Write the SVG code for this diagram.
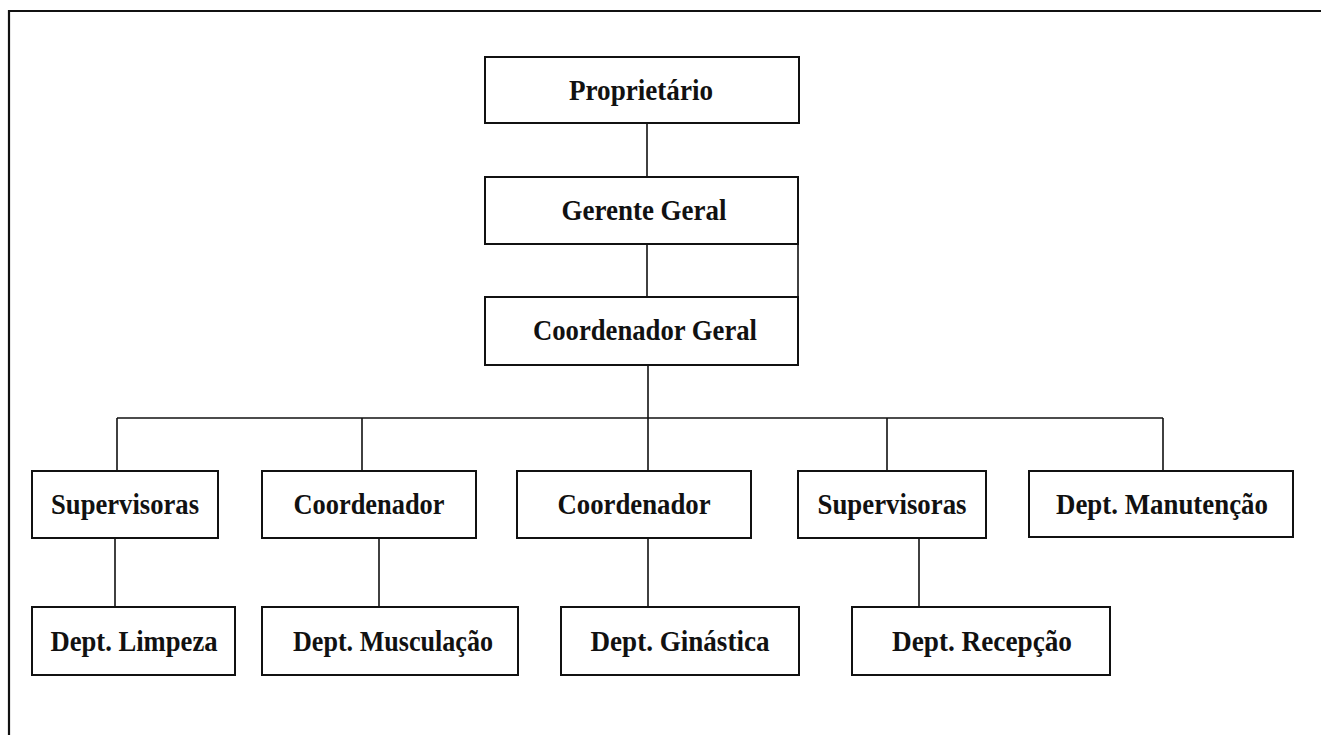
<svg xmlns="http://www.w3.org/2000/svg" width="1321" height="735" viewBox="0 0 1321 735">
<style>
.box{fill:#fff;stroke:#111;stroke-width:2}
.lbl{font-family:"Liberation Serif","Times New Roman",serif;font-weight:bold;font-size:30px;fill:#111;text-anchor:middle}
.ln{stroke:#111;stroke-width:1.6;fill:none}
.frame{stroke:#111;stroke-width:2.2;fill:none}
</style>
<rect width="1321" height="735" fill="#fff"/>
<path class="frame" d="M9,735 V11 H1321"/>
<g id="connectors">
<path class="ln" d="M647,123 V177"/>
<path class="ln" d="M647,244 V297"/>
<path class="ln" d="M798,244 V297"/>
<path class="ln" d="M648,365 V471"/>
<path class="ln" d="M117,418 H1163"/>
<path class="ln" d="M117,418 V471"/>
<path class="ln" d="M362,418 V471"/>
<path class="ln" d="M887,418 V471"/>
<path class="ln" d="M1163,418 V471"/>
<path class="ln" d="M115,538 V607"/>
<path class="ln" d="M379,538 V607"/>
<path class="ln" d="M648,538 V607"/>
<path class="ln" d="M919,538 V607"/>
</g>
<g id="proprietario"><rect class="box" x="485" y="57" width="314" height="66"/><text class="lbl" x="641" y="100" textLength="144" lengthAdjust="spacingAndGlyphs">Proprietário</text></g>
<g id="gerente-geral"><rect class="box" x="485" y="177" width="313" height="67"/><text class="lbl" x="644" y="220" textLength="165" lengthAdjust="spacingAndGlyphs">Gerente Geral</text></g>
<g id="coordenador-geral"><rect class="box" x="485" y="297" width="313" height="68"/><text class="lbl" x="645" y="340" textLength="224" lengthAdjust="spacingAndGlyphs">Coordenador Geral</text></g>
<g id="supervisoras-1"><rect class="box" x="32" y="471" width="186" height="67"/><text class="lbl" x="125" y="514" textLength="148" lengthAdjust="spacingAndGlyphs">Supervisoras</text></g>
<g id="coordenador-1"><rect class="box" x="262" y="471" width="214" height="67"/><text class="lbl" x="369" y="514" textLength="151" lengthAdjust="spacingAndGlyphs">Coordenador</text></g>
<g id="coordenador-2"><rect class="box" x="517" y="471" width="234" height="67"/><text class="lbl" x="634" y="514" textLength="153" lengthAdjust="spacingAndGlyphs">Coordenador</text></g>
<g id="supervisoras-2"><rect class="box" x="798" y="471" width="188" height="67"/><text class="lbl" x="892" y="514" textLength="149" lengthAdjust="spacingAndGlyphs">Supervisoras</text></g>
<g id="dept-manutencao"><rect class="box" x="1029" y="471" width="264" height="66"/><text class="lbl" x="1162" y="514" textLength="212" lengthAdjust="spacingAndGlyphs">Dept. Manutenção</text></g>
<g id="dept-limpeza"><rect class="box" x="32" y="607" width="203" height="68"/><text class="lbl" x="134" y="651" textLength="167" lengthAdjust="spacingAndGlyphs">Dept. Limpeza</text></g>
<g id="dept-musculacao"><rect class="box" x="262" y="607" width="256" height="68"/><text class="lbl" x="393" y="651" textLength="200" lengthAdjust="spacingAndGlyphs">Dept. Musculação</text></g>
<g id="dept-ginastica"><rect class="box" x="561" y="607" width="238" height="68"/><text class="lbl" x="680" y="651" textLength="179" lengthAdjust="spacingAndGlyphs">Dept. Ginástica</text></g>
<g id="dept-recepcao"><rect class="box" x="852" y="607" width="258" height="68"/><text class="lbl" x="982" y="651" textLength="180" lengthAdjust="spacingAndGlyphs">Dept. Recepção</text></g>
</svg>
